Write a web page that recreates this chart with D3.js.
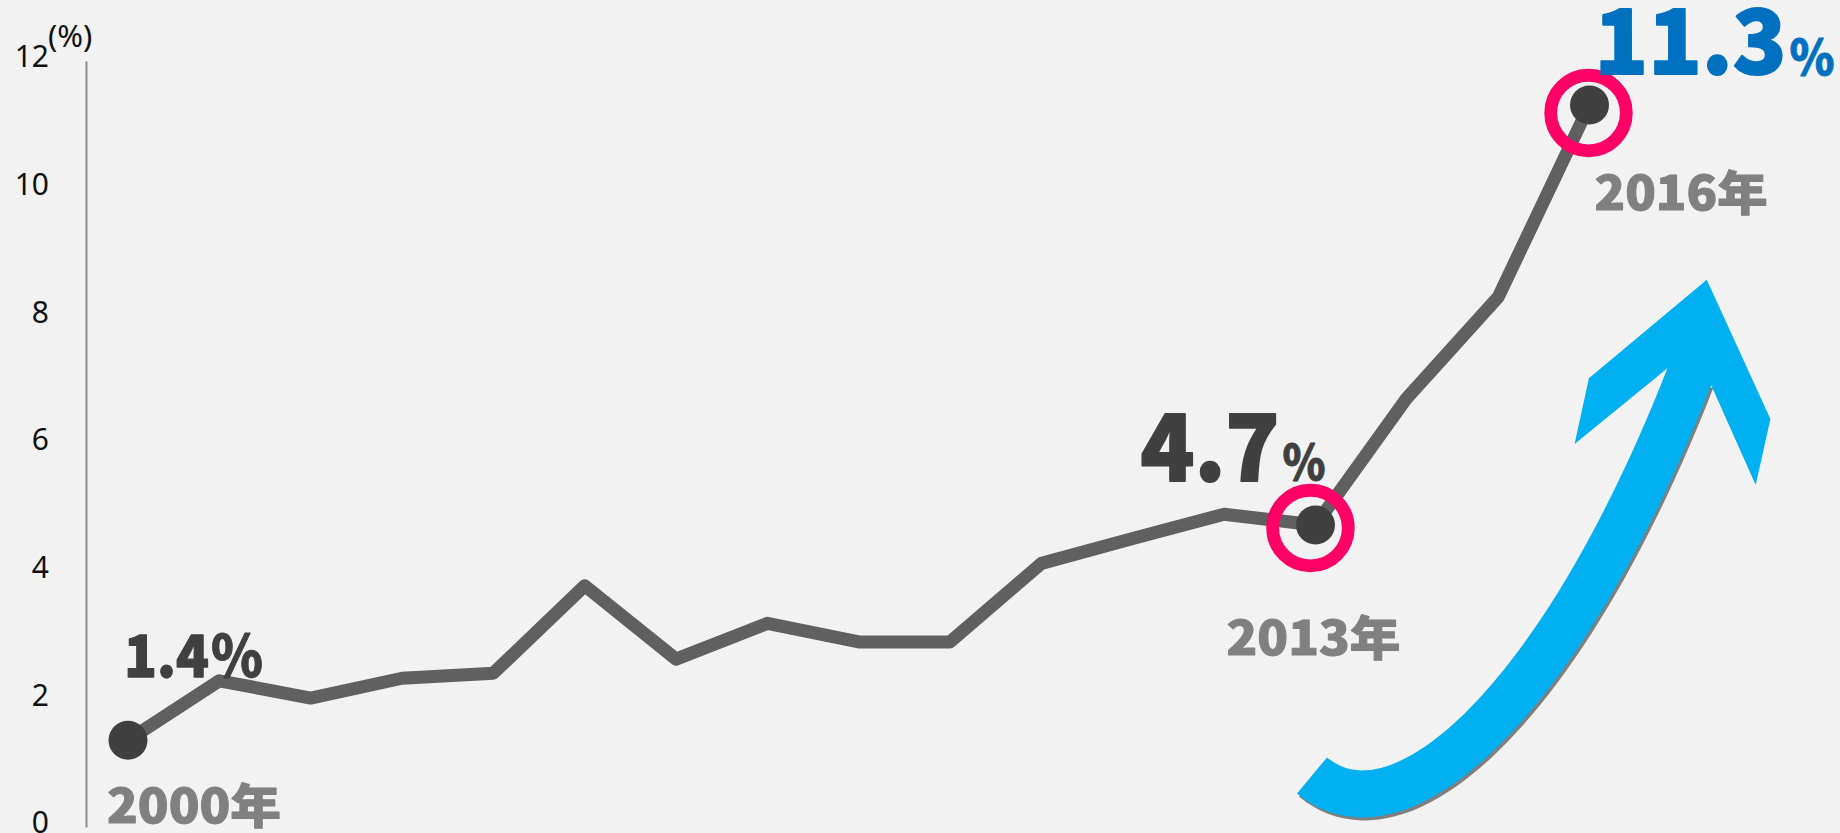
<!DOCTYPE html>
<html>
<head>
<meta charset="utf-8">
<script src="https://cdn.jsdelivr.net/npm/d3@7"></script>
<style>
  body { margin: 0; background: #f2f2f2; }
  svg { display: block; }
</style>
</head>
<body>
<svg id="chart" width="1840" height="833"></svg>
<script>
let years = [2000, 2001, 2002, 2003, 2004, 2005, 2006, 2007, 2008,
             2009, 2010, 2011, 2012, 2013, 2014, 2015, 2016];
let rates = [1.36, 2.29, 2.02, 2.33, 2.41, 3.78, 2.63, 3.19, 2.90,
             2.90, 4.13, 4.52, 4.90, 4.73, 6.72, 8.30, 11.31];
let y_ticks = [0, 2, 4, 6, 8, 10, 12];
let marked_years = [2000, 2013, 2016];
let ringed_years = [2013, 2016];
let rate_labels = ["1.4", "4.7", "11.3"];
let year_labels = ["2000年", "2013年", "2016年"];

// offsets (px) of the callouts from their point: dx, dy, size, width
let callouts = {
  2000: {num: [-4, -63.5, 58, 85], pct: [83, -63.5, 58, 52], yr: [-21, 83, 174], fill: "#404040"},
  2013: {num: [-175, -44, 92, 139], pct: [-33, -45, 49, 43], yr: [-89, 130, 174], fill: "#404040"},
  2016: {num: [5, -31, 89, 192], pct: [200, -30, 49, 45], yr: [5, 105, 173], fill: "#0070c0"}
};
let ring_shift = {2013: [-5, 3], 2016: [-1, 8]};

// decorative arrow (px): centre line as a cubic, shaft width, head corners
let arrow_spine = [[1312, 775.5], [1402, 850], [1565, 695], [1689.3, 376.8]];
let arrow_width = 47;
let arrow_head = [[1755.7, 485], [1770.4, 419.1], [1706.8, 279.7],
                  [1588.9, 378.3], [1574.6, 444]];

let heavy = "'Noto Sans CJK JP', Lato, sans-serif";

function make_scales() {
  return {
    x: d3.scaleLinear().domain([2000, 2016]).range([128, 1589.5]),
    y: d3.scaleLinear().domain([0, 12]).range([827, 61])
  }
}

function draw_axis(svg, s) {
  let g = svg.append("g")
    .attr("transform", "translate(86,0)")
    .call(d3.axisLeft(s.y).tickValues(y_ticks).tickSize(0).tickPadding(37))

  g.select(".domain").attr("stroke", "#8c8c8c").attr("stroke-width", 2)
  g.selectAll("text")
    .attr("dy", "0.19em")
    .attr("fill", "#111")
    .style("font-family", "'Noto Sans', sans-serif")
    .style("font-size", "30px")

  svg.append("text")
    .attr("x", 48).attr("y", 47)
    .attr("fill", "#111")
    .style("font-family", "'Noto Sans', sans-serif")
    .style("font-size", "31px")
    .text("(%)")
}

function draw_line(svg, s) {
  let pts = years.map((d, i) => [s.x(d), s.y(rates[i])]);
  svg.append("path")
    .attr("d", d3.line()(pts))
    .attr("fill", "none")
    .attr("stroke", "#606060")
    .attr("stroke-width", 13)
    .attr("stroke-linejoin", "round")

  svg.append("g").selectAll("circle")
    .data(marked_years).enter()
    .append("circle")
    .attr("cx", d => s.x(d))
    .attr("cy", d => s.y(rates[years.indexOf(d)]))
    .attr("r", 19.5)
    .attr("fill", "#404040")

  svg.append("g").selectAll("circle")
    .data(ringed_years).enter()
    .append("circle")
    .attr("cx", d => s.x(d) + ring_shift[d][0])
    .attr("cy", d => s.y(rates[years.indexOf(d)]) + ring_shift[d][1])
    .attr("r", 37.8)
    .attr("fill", "none")
    .attr("stroke", "#ff0066")
    .attr("stroke-width", 12.8)
}

function put_text(g, x, y, spec, str, fill, size, thick) {
  g.append("text")
    .attr("x", x + spec[0]).attr("y", y + spec[1])
    .attr("fill", fill)
    .attr("stroke", fill)
    .attr("stroke-width", thick)
    .attr("stroke-linejoin", "round")
    .attr("textLength", spec[spec.length - 1])
    .attr("lengthAdjust", "spacingAndGlyphs")
    .style("font-family", heavy)
    .style("font-weight", 900)
    .style("font-size", size + "px")
    .text(str)
}

function draw_labels(svg, s) {
  let g = svg.append("g");
  marked_years.forEach((yr, i) => {
    let c = callouts[yr],
        x = s.x(yr),
        y = s.y(rates[years.indexOf(yr)]);
    put_text(g, x, y, c.num, rate_labels[i], c.fill, c.num[2], c.num[2] / 45)
    put_text(g, x, y, c.pct, "%", c.fill, c.pct[2], 0.8)
    put_text(g, x, y, c.yr, year_labels[i], "#808080", 47, 1)
  })
}

function spine_at(t) {
  let [p0, p1, p2, p3] = arrow_spine, u = 1 - t;
  let pt = [0, 1].map(k => u*u*u*p0[k] + 3*u*u*t*p1[k] + 3*u*t*t*p2[k] + t*t*t*p3[k]);
  let dv = [0, 1].map(k => 3*u*u*(p1[k] - p0[k]) + 6*u*t*(p2[k] - p1[k]) + 3*t*t*(p3[k] - p2[k]));
  let len = Math.hypot(dv[0], dv[1]);
  return {pt: pt, n: [-dv[1] / len, dv[0] / len]};
}

function draw_arrow(svg) {
  let hw = arrow_width / 2,
      ts = d3.range(0, 1.0001, 0.02);
  let outer = ts.map(t => { let a = spine_at(t); return [a.pt[0] + hw*a.n[0], a.pt[1] + hw*a.n[1]] }),
      inner = ts.map(t => { let a = spine_at(t); return [a.pt[0] - hw*a.n[0], a.pt[1] - hw*a.n[1]] });

  let shaft = outer.concat(inner.slice().reverse());
  svg.append("path")
    .attr("d", d3.line()(shaft) + "Z")
    .attr("transform", "translate(2,3)")
    .attr("fill", "#7f7f7f")

  let shape = outer.concat(arrow_head, inner.slice().reverse());
  svg.append("path")
    .attr("d", d3.line()(shape) + "Z")
    .attr("fill", "#00b0f0")
}

let svg = d3.select("#chart");
let scales = make_scales();
draw_axis(svg, scales)
draw_arrow(svg)
draw_line(svg, scales)
draw_labels(svg, scales)
</script>
</body>
</html>
